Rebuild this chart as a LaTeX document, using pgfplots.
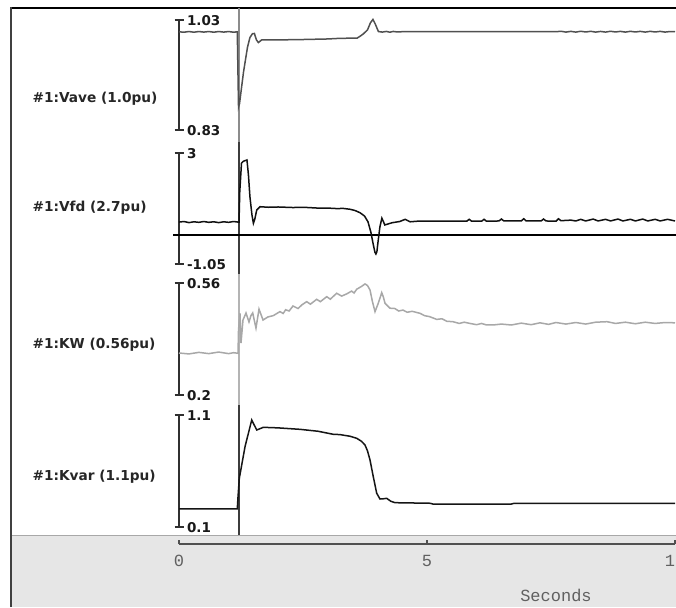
\documentclass[border=0pt]{standalone}
\usepackage{pgfplots}
\pgfplotsset{compat=1.18}
\usepackage{fontspec}
\setmainfont{DejaVu Sans}
\newfontfamily\monofont{Liberation Mono}
\definecolor{vavec}{HTML}{505050}
\definecolor{vfdc}{HTML}{101010}
\definecolor{kwc}{HTML}{A8A8A8}
\definecolor{kvarc}{HTML}{151515}
\definecolor{axc}{HTML}{303030}
\definecolor{bgg}{HTML}{E6E6E6}
\definecolor{txg}{HTML}{606060}
\definecolor{edgeg}{HTML}{A8A8A8}
\definecolor{leftg}{HTML}{404040}
\definecolor{cur1}{HTML}{8C8C8C}
\definecolor{cur2}{HTML}{3C3C3C}
\definecolor{cur3}{HTML}{B4B4B4}
\definecolor{taxc}{HTML}{505050}
\pgfplotsset{panel/.style={scale only axis, width=496pt, anchor=south west,
  xmin=0, xmax=10, axis x line=none, axis y line*=left, xtick=\empty,
  tick align=center, major tick length=9pt,
  axis line style={draw=axc, line width=1.6pt, -},
  y axis line style={-},
  every tick/.style={draw=axc, line width=1.6pt},
  yticklabel style={anchor=west, font=\bfseries\fontsize{13.5}{13.5}\selectfont, text=black!90, xshift=9pt, yshift=-0.5pt},
  clip=false}}
\begin{document}
\begin{tikzpicture}[x=1pt,y=1pt]
\useasboundingbox (0pt,0pt) rectangle (676pt,607pt);
\clip (0pt,0pt) rectangle (676pt,607pt);
\fill[white] (0pt,0pt) rectangle (676pt,607pt);
\fill[bgg] (12pt,0pt) rectangle (676pt,72pt);
\draw[edgeg, line width=1pt] (12pt,72pt) -- (676pt,72pt);
\draw[black, line width=1.5pt] (11pt,599pt) -- (676pt,599pt);
\draw[leftg, line width=1.5pt] (11pt,0pt) -- (11pt,599.75pt);

% labels
\node[anchor=west, font=\bfseries\fontsize{13.7}{14}\selectfont, text=black!85] at (29pt,508pt) {\#1:Vave (1.0pu)};
\node[anchor=west, font=\bfseries\fontsize{13.7}{14}\selectfont, text=black!85] at (29pt,399pt) {\#1:Vfd (2.7pu)};
\node[anchor=west, font=\bfseries\fontsize{13.7}{14}\selectfont, text=black!85] at (29pt,262pt) {\#1:KW (0.56pu)};
\node[anchor=west, font=\bfseries\fontsize{13.7}{14}\selectfont, text=black!85] at (29pt,130pt) {\#1:Kvar (1.1pu)};

% cursor overlay (image-pixel y)
\begin{axis}[scale only axis, width=496pt, height=527pt, at={(179pt,72pt)}, anchor=south west,
  xmin=0, xmax=10, ymin=8, ymax=535, y dir=reverse, hide axis, clip=false]
\addplot[draw=cur1, line width=2pt] coordinates {(1.2,8) (1.2,142)};
\addplot[draw=cur2, line width=2pt] coordinates {(1.2,142) (1.2,274)};
\addplot[draw=cur3, line width=2pt] coordinates {(1.2,274) (1.2,405)};
\addplot[draw=cur2, line width=2pt] coordinates {(1.2,405) (1.2,535)};
\end{axis}

% Vave
\begin{axis}[panel, at={(179pt,477pt)}, height=110pt, ymin=0.83, ymax=1.03,
  ytick={0.83,1.03}, yticklabels={0.83,1.03}]
\addplot[vavec, line width=1.5pt] coordinates {
(0,1.0085)(0.1,1.0078)(0.2,1.009)(0.3,1.0078)(0.4,1.009)(0.5,1.008)(0.6,1.009)(0.7,1.0078)(0.8,1.009)(0.9,1.008)(1.0,1.009)(1.1,1.0078)(1.175,1.0085)
(1.20,0.872)(1.22,0.878)(1.30,0.935)(1.38,0.98)(1.43,0.998)(1.48,1.005)(1.52,1.0055)(1.56,0.994)(1.60,0.989)(1.67,0.994)(2.0,0.9938)(2.5,0.9945)(3.0,0.9955)(3.25,0.9967)(3.59,0.9970)
(3.66,1.0010)(3.72,1.0050)(3.80,1.0120)(3.86,1.0250)(3.91,1.0310)(3.96,1.0220)(4.02,1.0090)(4.10,1.0080)(4.18,1.0092)(4.25,1.0078)(4.32,1.0092)(4.40,1.0082)(4.5,1.0087)(7.6,1.0087)
(7.7,1.0095)(7.8,1.0080)(7.9,1.0093)(8.0,1.0080)(8.1,1.0095)(8.2,1.0082)(8.3,1.0094)(8.4,1.0080)(8.5,1.0092)(8.6,1.0080)(8.7,1.0095)(8.8,1.0082)(8.9,1.0093)(9.0,1.0080)(9.1,1.0094)(9.2,1.0082)(9.3,1.0093)(9.4,1.0080)(9.5,1.0094)(9.6,1.0082)(9.7,1.0093)(9.8,1.0080)(9.9,1.0090)(10,1.0087)};
\end{axis}

% Vfd
\begin{axis}[panel, at={(179pt,343pt)}, height=111pt, ymin=-1.05, ymax=3,
  ytick={-1.05,3}, yticklabels={-1.05,3}]
\addplot[black, line width=2pt] coordinates {(-0.12,0) (10.2,0)};
\addplot[vfdc, line width=1.5pt] coordinates {
(0,0.48)(0.1,0.50)(0.2,0.46)(0.3,0.49)(0.4,0.47)(0.5,0.50)(0.6,0.47)(0.7,0.49)(0.8,0.46)(0.9,0.49)(1.0,0.47)(1.1,0.50)(1.19,0.48)(1.21,0.48)
(1.225,1.59)(1.26,2.63)(1.30,2.70)(1.37,2.745)(1.40,2.2)(1.43,1.40)(1.47,0.75)(1.50,0.435)(1.53,0.60)(1.567,0.92)(1.633,1.04)(1.8,1.02)(2.0,1.03)(2.3,1.01)(2.5,1.02)(2.8,0.99)(3.0,0.99)(3.2,0.97)(3.3,0.98)(3.45,0.946)(3.55,0.90)(3.65,0.82)(3.74,0.70)(3.81,0.49)
(3.87,0.10)(3.91,-0.28)(3.95,-0.62)(3.97,-0.685)(3.99,-0.60)(4.01,-0.28)(4.05,0.30)(4.09,0.62)(4.12,0.50)(4.15,0.373)(4.23,0.42)(4.3,0.457)(4.45,0.50)(4.56,0.58)(4.66,0.49)(4.8,0.51)
(5.8,0.51)(5.85,0.58)(5.9,0.51)(6.1,0.51)(6.15,0.58)(6.2,0.51)(6.45,0.52)(6.5,0.59)(6.55,0.52)(6.9,0.52)(6.95,0.60)(7.0,0.52)(7.3,0.52)(7.35,0.59)(7.4,0.52)(7.6,0.51)(7.65,0.60)(7.7,0.53)(7.9,0.55)(8.0,0.52)(8.1,0.58)(8.2,0.52)(8.35,0.59)(8.45,0.52)(8.6,0.58)(8.7,0.52)(8.85,0.59)(8.95,0.52)(9.1,0.58)(9.2,0.52)(9.35,0.59)(9.45,0.52)(9.6,0.58)(9.7,0.52)(9.85,0.58)(10,0.52)};
\end{axis}

% KW
\begin{axis}[panel, at={(179pt,212pt)}, height=112pt, ymin=0.2, ymax=0.56,
  ytick={0.2,0.56}, yticklabels={0.2,0.56}]
\addplot[kwc, line width=1.5pt] coordinates {
(0,0.335)(0.2,0.332)(0.4,0.337)(0.6,0.333)(0.8,0.338)(1.0,0.333)(1.1,0.336)(1.19,0.334)(1.20,0.409)(1.23,0.4626)(1.25,0.367)(1.29,0.441)(1.351,0.4636)(1.411,0.4346)(1.45,0.455)(1.486,0.4636)(1.552,0.415)(1.613,0.476)(1.694,0.441)(1.794,0.451)(1.9,0.455)
(2.036,0.468)(2.1,0.462)(2.15,0.474)(2.22,0.470)(2.298,0.486)(2.4,0.478)(2.48,0.490)(2.575,0.500)(2.65,0.492)(2.776,0.5076)(2.85,0.500)(2.978,0.516)(3.05,0.508)(3.179,0.527)(3.28,0.518)(3.381,0.525)(3.48,0.534)(3.53,0.528)(3.583,0.540)(3.68,0.549)(3.75,0.557)(3.80,0.552)(3.851,0.5375)(3.90,0.50)(3.952,0.468)(4.018,0.495)(4.087,0.529)(4.12,0.515)(4.153,0.495)(4.254,0.479)(4.35,0.478)(4.43,0.470)(4.516,0.473)(4.6,0.466)(4.7,0.469)(4.859,0.4626)(4.95,0.455)
(5.05,0.452)(5.196,0.443)(5.3,0.445)(5.4,0.437)(5.524,0.4356)(5.65,0.430)(5.75,0.434)(5.867,0.430)(6.0,0.426)(6.1,0.430)(6.2,0.425)(6.331,0.425)(6.5,0.428)(6.7,0.425)(6.9,0.431)(7.1,0.426)(7.278,0.432)(7.45,0.427)(7.6,0.433)(7.8,0.428)(8.0,0.433)(8.2,0.428)(8.4,0.434)(8.629,0.4356)(8.8,0.430)(9.0,0.434)(9.2,0.429)(9.4,0.434)(9.6,0.430)(9.8,0.433)(10,0.432)};
\end{axis}

% Kvar
\begin{axis}[panel, at={(179pt,80pt)}, height=112pt, ymin=0.1, ymax=1.1,
  ytick={0.1,1.1}, yticklabels={0.1,1.1}]
\addplot[kvarc, line width=1.5pt] coordinates {
(0,0.261)(1.175,0.261)(1.19,0.37)(1.216,0.535)(1.331,0.817)(1.466,1.055)(1.567,0.966)(1.70,0.99)(2.0,0.985)(2.44,0.972)(2.8,0.955)(3.105,0.928)(3.246,0.925)(3.45,0.91)(3.583,0.892)(3.68,0.865)(3.75,0.832)(3.80,0.78)(3.851,0.698)(3.917,0.549)(3.986,0.401)(4.052,0.35)(4.12,0.352)(4.187,0.356)(4.27,0.33)(4.355,0.317)(5.06,0.312)(5.12,0.305)(6.70,0.305)(6.76,0.312)(10,0.312)};
\end{axis}

% time axis
\begin{axis}[scale only axis, width=496pt, height=10pt, at={(179pt,63pt)}, anchor=south west,
  xmin=0, xmax=10, ymin=0, ymax=1, axis x line*=bottom, axis y line=none,
  axis line style={draw=taxc, line width=1.6pt, -}, x axis line style={-},
  xtick={0,5,10}, xticklabels={0,5,10}, tick align=inside, major tick length=4pt,
  every tick/.style={draw=taxc, line width=1.2pt},
  xticklabel style={anchor=center, yshift=-17pt, font=\monofont\fontsize{17}{17}\selectfont, text=txg},
  xlabel={Seconds},
  xlabel style={at={(axis description cs:0.76,0)}, anchor=center, yshift=-51pt, font=\monofont\fontsize{17}{17}\selectfont, text=txg},
  clip=false]
\addplot[draw=none] coordinates {(0,0) (10,0)};
\end{axis}
\end{tikzpicture}
\end{document}
